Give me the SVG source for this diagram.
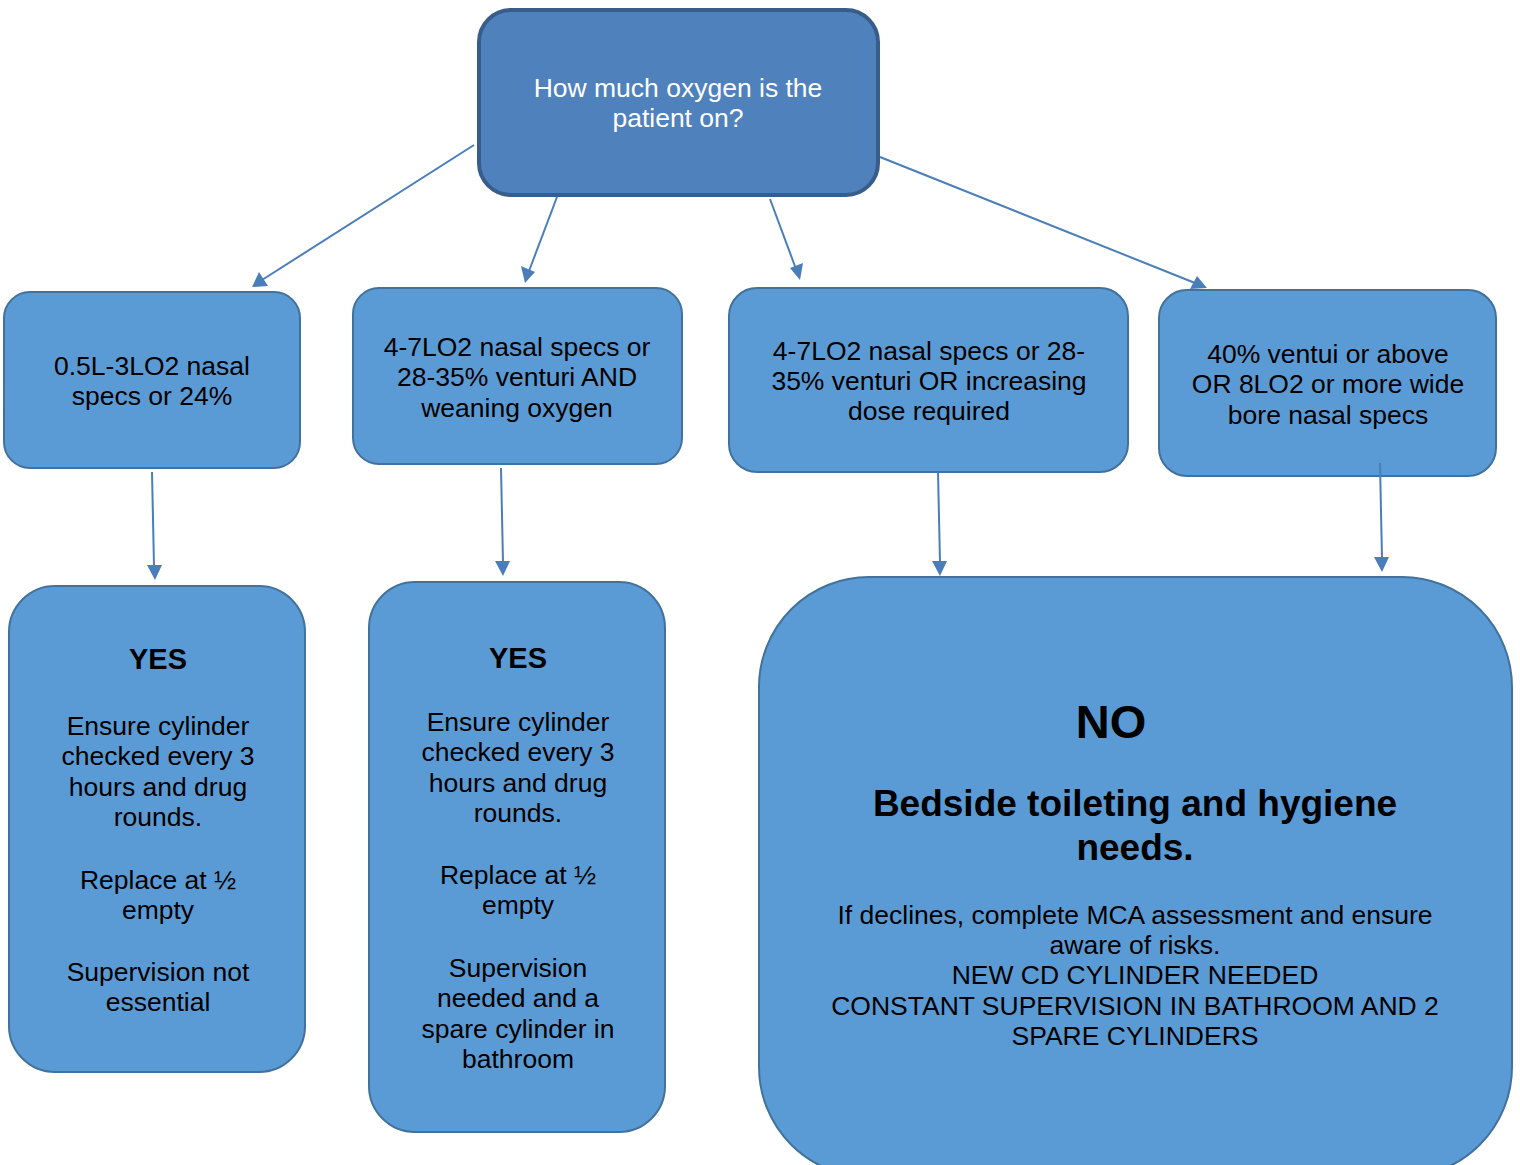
<svg xmlns="http://www.w3.org/2000/svg" width="1520" height="1165" viewBox="0 0 1520 1165">
<defs>
<style>
.box{fill:#5B9BD5;stroke:#41719C;stroke-width:2}
.top{fill:#4F81BD;stroke:#385D8A;stroke-width:4}
.t{font-family:"Liberation Sans",Arial,sans-serif;font-size:26.5px;text-anchor:middle;fill:#000}
.w{fill:#fff}
.b{font-weight:bold}
</style>
</defs>
<rect width="1520" height="1165" fill="#fff"/>
<g id="n0"><rect class="top" x="479" y="10" width="399" height="185" rx="32"/>
<text class="t w" x="678" y="97">How much oxygen is the</text><text class="t w" x="678" y="127">patient on?</text></g>
<g id="n1"><rect class="box" x="4" y="292" width="296" height="176" rx="26"/>
<text class="t" x="152" y="375">0.5L-3LO2 nasal</text><text class="t" x="152" y="405">specs or 24%</text></g>
<g id="n2"><rect class="box" x="353" y="288" width="329" height="176" rx="26"/>
<text class="t" x="517" y="356">4-7LO2 nasal specs or</text><text class="t" x="517" y="386">28-35% venturi AND</text><text class="t" x="517" y="417">weaning oxygen</text></g>
<g id="n3"><rect class="box" x="729" y="288" width="399" height="184" rx="28"/>
<text class="t" x="929" y="360">4-7LO2 nasal specs or 28-</text><text class="t" x="929" y="390">35% venturi OR increasing</text><text class="t" x="929" y="420">dose required</text></g>
<g id="n4"><rect class="box" x="1159" y="290" width="337" height="186" rx="28"/>
<text class="t" x="1328" y="363">40% ventui or above</text><text class="t" x="1328" y="393">OR 8LO2 or more wide</text><text class="t" x="1328" y="424">bore nasal specs</text></g>
<g id="n5"><rect class="box" x="9" y="586" width="296" height="486" rx="46"/>
<text class="t b" x="158" y="669" style="font-size:29px">YES</text>
<text class="t" x="158" y="735">Ensure cylinder</text><text class="t" x="158" y="765">checked every 3</text><text class="t" x="158" y="796">hours and drug</text><text class="t" x="158" y="826">rounds.</text>
<text class="t" x="158" y="889">Replace at ½</text><text class="t" x="158" y="919">empty</text>
<text class="t" x="158" y="981">Supervision not</text><text class="t" x="158" y="1011">essential</text></g>
<g id="n6"><rect class="box" x="369" y="582" width="296" height="550" rx="46"/>
<text class="t b" x="518" y="668" style="font-size:29px">YES</text>
<text class="t" x="518" y="731">Ensure cylinder</text><text class="t" x="518" y="761">checked every 3</text><text class="t" x="518" y="792">hours and drug</text><text class="t" x="518" y="822">rounds.</text>
<text class="t" x="518" y="884">Replace at ½</text><text class="t" x="518" y="914">empty</text>
<text class="t" x="518" y="977">Supervision</text><text class="t" x="518" y="1007">needed and a</text><text class="t" x="518" y="1038">spare cylinder in</text><text class="t" x="518" y="1068">bathroom</text></g>
<g id="n7"><rect class="box" x="759" y="577" width="753" height="600" rx="110"/>
<text class="t b" x="1111" y="738" style="font-size:47px">NO</text>
<text class="t b" x="1135" y="816" style="font-size:37px">Bedside toileting and hygiene</text>
<text class="t b" x="1135" y="860" style="font-size:37px">needs.</text>
<text class="t" x="1135" y="924">If declines, complete MCA assessment and ensure</text>
<text class="t" x="1135" y="954">aware of risks.</text>
<text class="t" x="1135" y="984">NEW CD CYLINDER NEEDED</text>
<text class="t" x="1135" y="1015">CONSTANT SUPERVISION IN BATHROOM AND 2</text>
<text class="t" x="1135" y="1045">SPARE CYLINDERS</text></g>
<g id="connectors">
<g stroke="#4A7EBB" stroke-width="2">
<line x1="474" y1="145" x2="262" y2="280"/>
<line x1="557" y1="197" x2="529" y2="271"/>
<line x1="770" y1="199" x2="796" y2="269"/>
<line x1="880" y1="157" x2="1195" y2="283"/>
<line x1="152" y1="472" x2="154" y2="566"/>
<line x1="501" y1="468" x2="503" y2="562"/>
<line x1="938" y1="472" x2="940" y2="562"/>
<line x1="1380" y1="463" x2="1382" y2="558"/>
</g>
<g fill="#4A7EBB" stroke="none">
<polygon points="252,287 259,272 268,286"/>
<polygon points="525,283 521,266 535,272"/>
<polygon points="800,280 790,268 803,263"/>
<polygon points="1207,288 1190,289 1197,276"/>
<polygon points="155,580 147,565 162,565"/>
<polygon points="503,576 495,561 510,561"/>
<polygon points="940,576 932,561 947,561"/>
<polygon points="1382,572 1374,557 1389,557"/>
</g>
</g>
</svg>
